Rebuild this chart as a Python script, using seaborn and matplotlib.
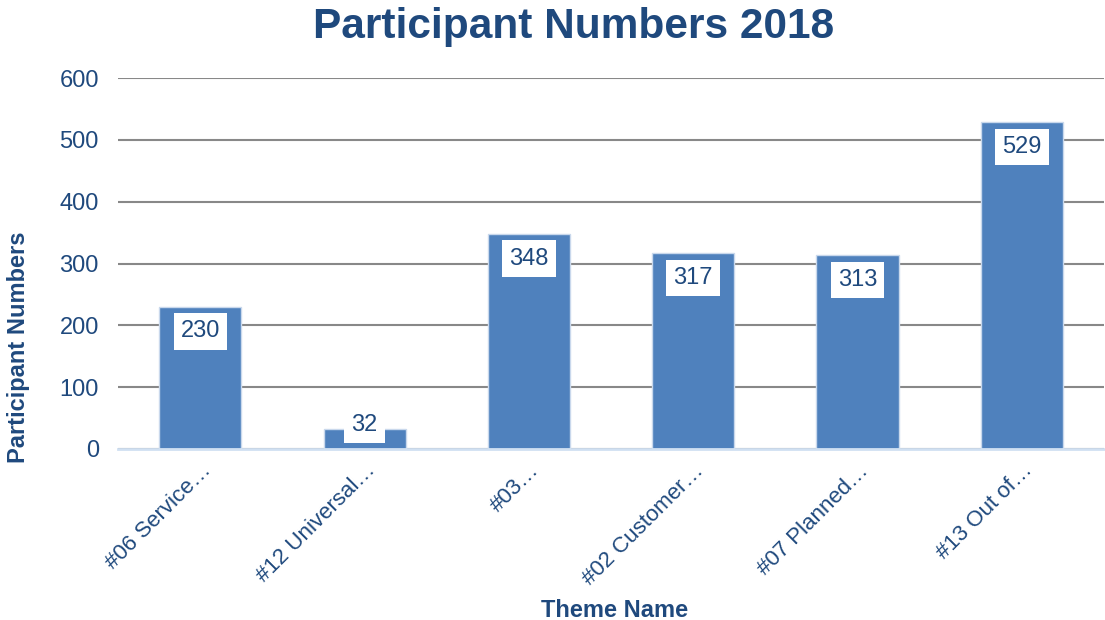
import pandas as pd
import matplotlib
matplotlib.use("Agg")
import matplotlib.pyplot as plt
import seaborn as sns

sns.set_style("white")
plt.rcParams["font.family"] = ["Liberation Sans", "DejaVu Sans"]

# ---------------------------------------------------------
# Data
# ---------------------------------------------------------
themes = [
    "#06 Service\u2026",
    "#12 Universal\u2026",
    "#03\u2026",
    "#02 Customer\u2026",
    "#07 Planned\u2026",
    "#13 Out of\u2026",
]
participants = [230, 32, 348, 317, 313, 529]
y_ticks = [0, 100, 200, 300, 400, 500, 600]

navy = "#1F497D"
bar_blue = "#4F81BD"

df = pd.DataFrame({"Theme Name": themes, "Participant Numbers": participants})

fig, ax = plt.subplots(figsize=(11.05, 6.2), dpi=100)
fig.subplots_adjust(left=0.107, right=0.999, top=0.874, bottom=0.276)

sns.barplot(
    data=df,
    x="Theme Name",
    y="Participant Numbers",
    color=bar_blue,
    saturation=1,
    width=0.5,
    edgecolor="#C9D8EC",
    linewidth=1,
    ax=ax,
    zorder=3,
)

# value labels in white boxes just under the bar tops (kept inside the plot)
for i, v in enumerate(participants):
    ax.text(
        i, max(v - 40, 39), str(v),
        ha="center", va="center", fontsize=17, color=navy, zorder=5,
        bbox=dict(boxstyle="square,pad=0.3", fc="white", ec="none"),
    )

ax.set_ylim(0, 600)
ax.set_yticks(y_ticks)
ax.yaxis.grid(True, color="#888888", linewidth=1.5, zorder=0)
ax.set_axisbelow(True)
for side in ["top", "right", "left"]:
    ax.spines[side].set_visible(False)
ax.spines["bottom"].set_color("#D0E0F2")
ax.spines["bottom"].set_linewidth(2)
ax.spines["bottom"].set_zorder(4)

ax.tick_params(axis="y", length=0, labelsize=17, labelcolor=navy, pad=14)
ax.tick_params(axis="x", length=0, labelsize=16, labelcolor=navy, pad=8)
plt.setp(ax.get_xticklabels(), rotation=45, ha="right", rotation_mode="anchor")

ax.set_xlabel("Theme Name", fontsize=17, fontweight="bold", color=navy)
ax.xaxis.set_label_coords(0.504, -0.405)
ax.set_ylabel("Participant Numbers", fontsize=17, fontweight="bold", color=navy)
ax.yaxis.set_label_coords(-0.090, 0.275)
fig.text(0.519, 0.957, "Participant Numbers 2018", fontsize=30.5, fontweight="bold",
         color=navy, ha="center", va="center")

fig.savefig("out.png", dpi=100)
